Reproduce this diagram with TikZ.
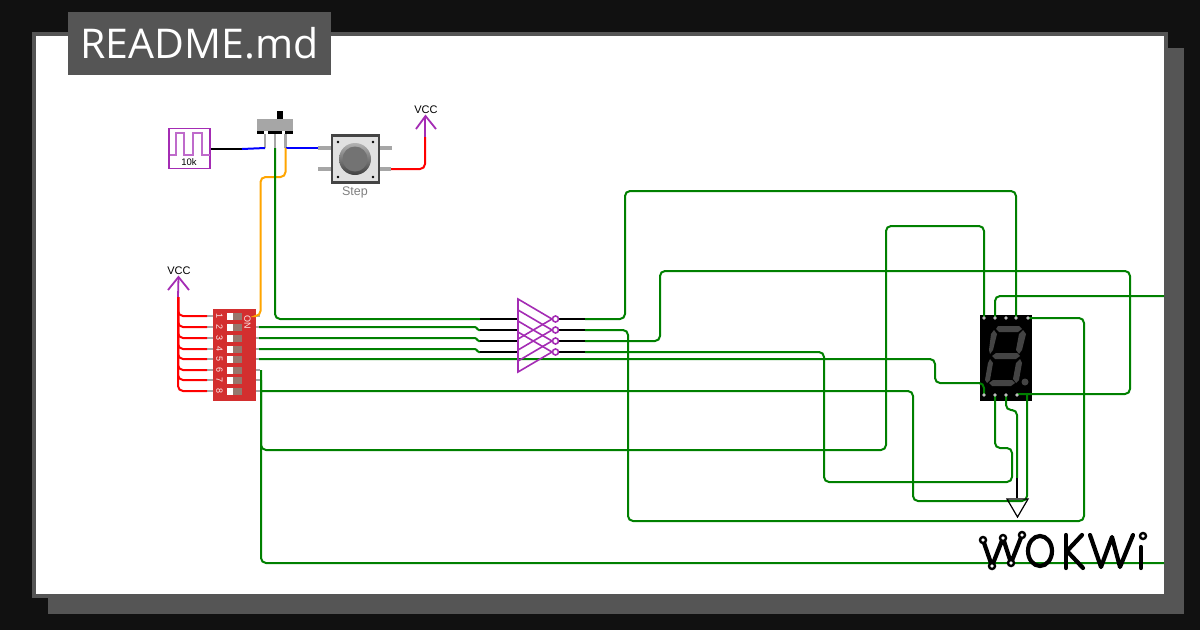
\documentclass[tikz,border=0pt]{standalone}
\usepackage{fontspec}
\setmainfont{Open Sans}
\newfontfamily\labelfont{Liberation Sans}
\definecolor{framebg}{HTML}{111111}
\definecolor{framegray}{HTML}{555555}
\definecolor{chipred}{HTML}{D32F2F}
\definecolor{dipgray}{HTML}{95786E}
\definecolor{wokpurple}{HTML}{A42CB4}
\definecolor{wiregreen}{HTML}{008000}
\definecolor{wireorange}{HTML}{FFA500}
\definecolor{pingray}{HTML}{A6A6A6}
\definecolor{segdark}{HTML}{444444}
\tikzset{
  wire/.style={line width=2pt, rounded corners=5pt},
  gwire/.style={wire, draw=wiregreen},
  rwire/.style={wire, draw=red},
  stub/.style={line width=1.5pt, draw=black},
  pinline/.style={line width=2.4pt, draw=pingray},
  sym/.style={line width=1.6pt, draw=wokpurple},
  seg/.style={fill=segdark, draw=none},
  logo/.style={line width=4.2pt, draw=black, line cap=round, line join=round},
  logopin/.style={line width=2.4pt, draw=black, fill=white},
  vcclabel/.style={font=\labelfont\fontsize{11}{12}\selectfont, inner sep=0pt},
  diplabel/.style={font=\labelfont\fontsize{9}{10}\selectfont, text=white!90!chipred, inner sep=0pt, rotate=-90}
}
\begin{document}
\begin{tikzpicture}[x=1pt,y=-1pt]
  \useasboundingbox (0,0) rectangle (1200,630);

  % Draw the frame
  \fill[framebg] (0,0) rectangle (1200,630);
  \fill[framegray] (48,48) rectangle (1184,614);
  \fill[framegray] (32,32) rectangle (1168,598);
  \fill[white] (36,36) rectangle (1164,594);

  % Define the pins
  \coordinate (pulseout) at (211,149);
  \coordinate (pulsemid) at (242,149);
  \coordinate (swa) at (265,148);
  \coordinate (swb) at (275,148);
  \coordinate (swc) at (285.5,148);
  \coordinate (btna) at (318,148);
  \coordinate (btnb) at (391,169);
  \coordinate (vcca) at (425,137);
  \coordinate (vccb) at (178,297);
  \coordinate (dipa) at (256,316);
  \coordinate (dipb) at (259,327);
  \coordinate (dipc) at (259,338);
  \coordinate (dipd) at (259,349);
  \coordinate (dipe) at (259,359);
  \coordinate (dipf) at (261,370);
  \coordinate (dipg) at (261,380);
  \coordinate (diph) at (261,391);
  \coordinate (inva) at (480,319);
  \coordinate (invb) at (480,330);
  \coordinate (invc) at (480,341);
  \coordinate (invd) at (480,352);
  \coordinate (outa) at (585,319);
  \coordinate (outb) at (585,330);
  \coordinate (outc) at (585,341);
  \coordinate (outd) at (585,352);
  \coordinate (topa) at (984,318);
  \coordinate (topb) at (995,318);
  \coordinate (topc) at (1006,318);
  \coordinate (topd) at (1016,318);
  \coordinate (tope) at (1028,318);
  \coordinate (bota) at (984,395);
  \coordinate (botb) at (995,395);
  \coordinate (botc) at (1006,395);
  \coordinate (botd) at (1017,395);
  \coordinate (bote) at (1027,395);
  \coordinate (gnd) at (1017,478);
  \coordinate (edgea) at (1164,296);
  \coordinate (edgeb) at (1164,563);

  % Draw the clock
  \node (pulse) [draw=wokpurple, line width=1.6pt, fill=white, minimum width=41pt, minimum height=40pt, inner sep=0pt] at (189.5,148.5) {};
  \draw[line width=1.4pt, draw=wokpurple!70] (170,155) -- (176,155) -- (176,133) -- (184,133) -- (184,155) -- (193,155) -- (193,133) -- (202,133) -- (202,155) -- (210,155);
  \node (pulselabel) [font=\labelfont\fontsize{9.5}{10}\selectfont, inner sep=0pt] at (189,162.5) {10k};

  % Draw the slide switch
  \fill[pingray] (257,119) rectangle (293,131);
  \fill[black] (277,111) rectangle (283,119);
  \fill[black] (257,131) rectangle (264,134);
  \fill[black] (268,131) rectangle (282,134);
  \fill[black] (285,131) rectangle (293,134);
  \draw[pinline] (265,134) -- (swa);
  \draw[pinline] (275,134) -- (swb);
  \draw[pinline] (285.5,134) -- (swc);

  % Draw the push button
  \draw[pinline, line width=4pt] (btna) -- (332,148);
  \draw[pinline, line width=4pt] (318,169) -- (332,169);
  \draw[pinline, line width=4pt] (380,148) -- (392,148);
  \draw[pinline, line width=4pt] (380,169) -- (btnb);
  \node (button) [draw=segdark, line width=2.6pt, fill=black!12, minimum size=47pt, inner sep=0pt] at (355.5,159) {};
  \shade[top color=black!30, bottom color=black!75] (355,159) circle (16pt);
  \fill[black!55] (355,159) circle (12.5pt);
  \fill[black] (338,142) circle (1.3pt);
  \fill[black] (373,142) circle (1.3pt);
  \fill[black] (338,177) circle (1.3pt);
  \fill[black] (373,177) circle (1.3pt);
  \node (steplabel) [font=\labelfont\fontsize{12.5}{14}\selectfont, text=black!50, inner sep=0pt] at (355,192.5) {Step};

  % Draw the DIP switch
  \node (dip) [fill=chipred, minimum width=43pt, minimum height=92pt, inner sep=0pt] at (234.5,355) {};
  \node (onlabel) [diplabel] at (247.5,322) {ON};
  \foreach \y/\n in {316/1,327/2,338/3,349/4,359/5,370/6,380/7,391/8} {
    \draw[pinline] (207,\y) -- (213,\y);
    \draw[pinline] (256,\y) -- (260,\y);
    \fill[white] (227,\y-3.5) rectangle (233,\y+3.5);
    \fill[dipgray] (233,\y-3.5) rectangle (242,\y+3.5);
    \node (num\n) [diplabel] at (219.5,\y) {\n};
    \draw[rwire] (vccb) |- (207,\y);
  }

  % Draw the display
  \node (display) [fill=black, minimum width=52pt, minimum height=86pt, inner sep=0pt] at (1006,358) {};
  \fill[seg] (998,326) -- (1019,326) -- (1022,329) -- (1018,332) -- (999,332) -- (996,329) -- cycle;
  \fill[seg] (994,330) -- (997,334) -- (993,350) -- (990,354) -- (989,350) -- (991,334) -- cycle;
  \fill[seg] (1023,330) -- (1026,334) -- (1022,350) -- (1019,354) -- (1016,350) -- (1019,334) -- cycle;
  \fill[seg] (996,353) -- (1017,353) -- (1020,356) -- (1016,359) -- (995,359) -- (992,356) -- cycle;
  \fill[seg] (990,359) -- (993,363) -- (990,380) -- (987,383) -- (985,380) -- (988,363) -- cycle;
  \fill[seg] (1020,359) -- (1022,363) -- (1019,380) -- (1016,383) -- (1013,379) -- (1016,363) -- cycle;
  \fill[seg] (993,380) -- (1012,380) -- (1015,383) -- (1011,386) -- (992,386) -- (989,383) -- cycle;
  \fill[seg] (1025,382) circle (3.5pt);

  % Draw the wires
  \draw[stub] (pulseout) -- (pulsemid);
  \draw[wire, draw=blue] (pulsemid) -- (swa);
  \draw[wire, draw=blue] (swc) -- (btna);
  \draw[wire, draw=wireorange] (swc) -- (285.5,177) -- (260.5,177) -- (260.5,316) -- (dipa);
  \draw[gwire] (swb) -- (275,319) -- (inva);
  \draw[rwire] (btnb) -- (425,169) -- (vcca);
  \draw[gwire, rounded corners=1pt] (dipb) -- (476,327) -- (478,330) -- (invb);
  \draw[gwire, rounded corners=1pt] (dipc) -- (476,338) -- (478,341) -- (invc);
  \draw[gwire, rounded corners=1pt] (dipd) -- (476,349) -- (478,352) -- (invd);
  \draw[gwire] (dipe) -- (935,359) -- (935,383) -- (984,383) -- (bota);
  \draw[gwire] (dipf) -- (261,450) -- (886,450) -- (886,226) -- (984,226) -- (topa);
  \draw[gwire] (dipg) -- (261,563) -- (edgeb);
  \draw[gwire] (diph) -- (913,391) -- (913,501) -- (1027,501) -- (bote);
  \draw[gwire] (outa) -- (625,319) -- (625,191) -- (1016,191) -- (topd);
  \draw[gwire] (outb) -- (628,330) -- (628,521) -- (1084,521) -- (1084,318) -- (tope);
  \draw[gwire] (outc) -- (660,341) -- (660,271) -- (1130,271) -- (1130,394) -- (1017,394);
  \draw[gwire] (outd) -- (824,352) -- (824,482) -- (1012,482) -- (1012,448) -- (995,448) -- (botb);
  \draw[gwire] (topb) -- (995,296) -- (edgea);
  \draw[gwire] (botc) -- (1006,410) -- (1017,410) -- (gnd);

  % Draw the inverters
  \draw[stub] (inva) -- (518,319);
  \draw[stub] (invb) -- (518,330);
  \draw[stub] (invc) -- (518,341);
  \draw[stub] (invd) -- (518,352);
  \draw[stub] (559,319) -- (outa);
  \draw[stub] (559,330) -- (outb);
  \draw[stub] (559,341) -- (outc);
  \draw[stub] (559,352) -- (outd);
  \draw[sym] (518,299) -- (552,319) -- (518,339) -- cycle;
  \draw[sym] (518,310) -- (552,330) -- (518,350) -- cycle;
  \draw[sym] (518,321) -- (552,341) -- (518,361) -- cycle;
  \draw[sym] (518,332) -- (552,352) -- (518,372) -- cycle;
  \draw[sym, fill=white] (555.5,319) circle (3pt);
  \draw[sym, fill=white] (555.5,330) circle (3pt);
  \draw[sym, fill=white] (555.5,341) circle (3pt);
  \draw[sym, fill=white] (555.5,352) circle (3pt);

  % Draw the supply and ground symbols
  \draw[sym, line width=1.8pt] (vcca) -- (425,116);
  \draw[sym, line width=1.8pt] (416,129) -- (425.5,116) -- (436,129);
  \node (vcctop) [vcclabel] at (426,110) {VCC};
  \draw[sym, line width=1.8pt] (vccb) -- (178.5,277);
  \draw[sym, line width=1.8pt] (168,290) -- (178.5,277) -- (189,290);
  \node (vccdip) [vcclabel] at (179,271) {VCC};
  \draw[line width=1.2pt] (gnd) -- (1017,498);
  \draw[line width=1.2pt] (1007,499) -- (1028,499) -- (1017.5,517) -- cycle;

  % Draw the display pins
  \foreach \p in {topa,topb,topc,topd,tope,bota,botb,botc,botd} {
    \fill[black!25] (\p) circle (1.8pt);
  }

  % Draw the logo
  \draw[logo] (983,540) -- (992,566) -- (1003,538) -- (1011,563) -- (1022,535);
  \draw[logopin] (983,540) circle (3pt);
  \draw[logopin] (992,566) circle (3pt);
  \draw[logopin] (1003,538) circle (3pt);
  \draw[logopin] (1011,563) circle (3pt);
  \draw[logopin] (1022,535) circle (3pt);
  \draw[logo] (1040,551) ellipse (12pt and 15pt);
  \draw[logo] (1066,535) -- (1066,568);
  \draw[logo] (1082,535) -- (1067,551) -- (1083,568);
  \draw[logo] (1090,535) -- (1101,567) -- (1112,537) -- (1120,567) -- (1133,535);
  \draw[logo] (1141,547) -- (1141,568);
  \draw[logopin] (1143,536) circle (3pt);

  % Draw the title
  \node (title) [fill=framegray, text=white, minimum width=263pt, minimum height=63pt, inner sep=0pt, font=\fontsize{41}{48}\selectfont] at (199.5,43.5) {README.md};
\end{tikzpicture}
\end{document}
